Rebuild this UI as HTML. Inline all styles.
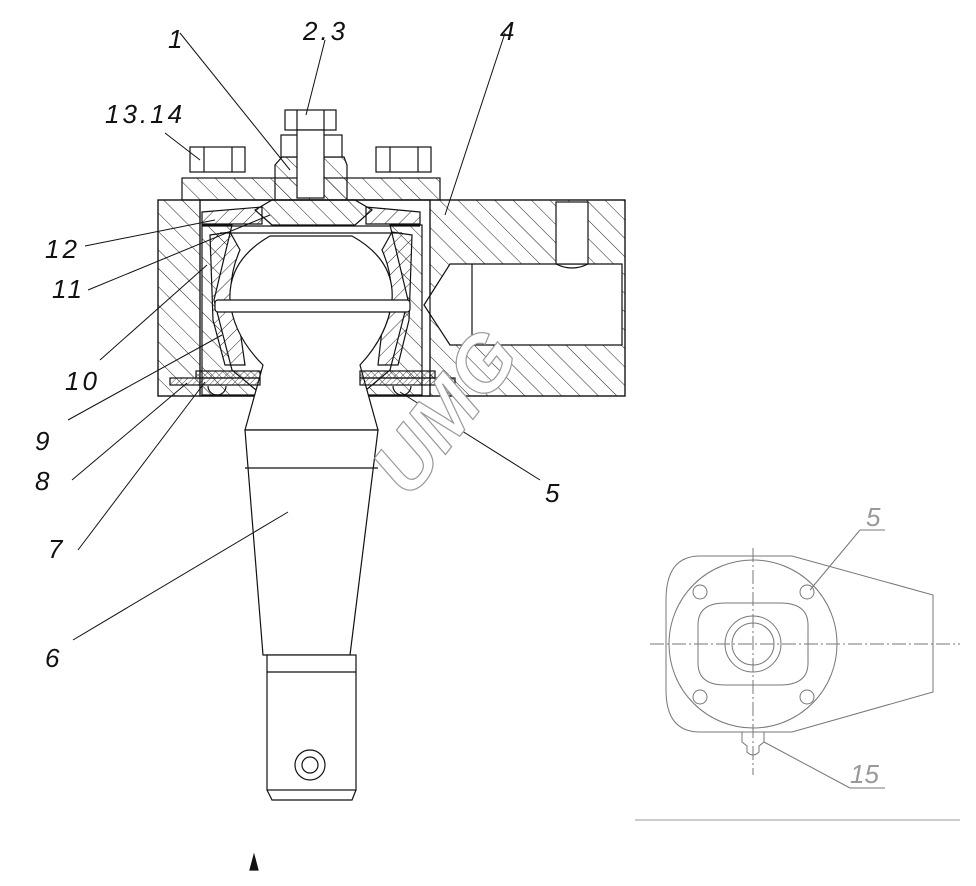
<!DOCTYPE html>
<html><head><meta charset="utf-8"><style>
html,body{margin:0;padding:0;background:#fff;width:976px;height:886px;overflow:hidden}
svg{display:block}
text{font-family:"Liberation Sans",sans-serif;font-style:italic}
</style></head><body>
<svg width="976" height="886" viewBox="0 0 976 886" xmlns="http://www.w3.org/2000/svg">
<defs>
<pattern id="h" width="13" height="13" patternUnits="userSpaceOnUse" patternTransform="rotate(-45)">
<line x1="0" y1="0" x2="0" y2="13" stroke="#222" stroke-width="1"/></pattern>
<pattern id="h2" width="10" height="10" patternUnits="userSpaceOnUse" patternTransform="rotate(45)">
<line x1="0" y1="0" x2="0" y2="10" stroke="#222" stroke-width="1"/></pattern>
<pattern id="x" width="5" height="5" patternUnits="userSpaceOnUse" patternTransform="rotate(45)">
<line x1="0" y1="0" x2="0" y2="5" stroke="#222" stroke-width=".8"/><line x1="0" y1="0" x2="5" y2="0" stroke="#222" stroke-width=".8"/></pattern>
<pattern id="s" width="4" height="4" patternUnits="userSpaceOnUse" patternTransform="rotate(45)">
<line x1="0" y1="0" x2="0" y2="4" stroke="#222" stroke-width=".8"/></pattern>
</defs>
<g stroke="#111" stroke-width="1.2" fill="none">
<path d="M158 200 H625 V396 H158 Z M200 200 V396 H430 V200 Z" fill="url(#h)" fill-rule="evenodd"/>
<rect x="158" y="200" width="467" height="196"/>
<path d="M450 264 H622 V345 H450 L424 305 Z" fill="#fff"/>
<line x1="472" y1="264" x2="472" y2="345"/>
<rect x="556" y="202" width="32" height="62" fill="#fff"/>
<path d="M556 264 Q572 272 588 264"/>
<path d="M390 225 L422 225 V395 H360 L390 370 L408 300 Z" fill="url(#h)"/>
<path d="M232 225 L202 225 V395 H262 L232 370 L214 300 Z" fill="url(#h)"/>
<rect x="200" y="200" width="230" height="196"/>
<path d="M210 235 L230 232 L240 250 Q222 290 240 330 L245 365 H225 L213 320 Z" fill="url(#h2)"/>
<path d="M412 235 L392 232 L382 250 Q400 290 382 330 L378 365 H398 L409 320 Z" fill="url(#h2)"/>
<rect x="182" y="178" width="258" height="22" fill="url(#h)"/>
<path d="M255 210 L272 200 H355 L372 210 L355 225 H272 Z" fill="url(#h)"/>
<path d="M202 212 L262 207 V224 H202 Z" fill="url(#h2)"/>
<path d="M420 212 L366 207 V224 H420 Z" fill="url(#h2)"/>
<line x1="202" y1="226" x2="420" y2="226"/>
<line x1="220" y1="233" x2="402" y2="233"/>
<rect x="190" y="147" width="55" height="25" fill="#fff"/><line x1="204" y1="147" x2="204" y2="172"/><line x1="232" y1="147" x2="232" y2="172"/>
<rect x="376" y="147" width="55" height="25" fill="#fff"/><line x1="390" y1="147" x2="390" y2="172"/><line x1="418" y1="147" x2="418" y2="172"/>
<path d="M275 200 V165 L282 157 H344 L347 165 V200" fill="url(#h)"/>
<rect x="281" y="135" width="61" height="22" fill="#fff"/>
<rect x="285" y="110" width="51" height="20" fill="#fff"/>
<line x1="297" y1="110" x2="297" y2="130"/><line x1="324" y1="110" x2="324" y2="130"/>
<rect x="297" y="130" width="27" height="68" fill="#fff"/>
<path d="M270 236 H352 Q395 260 392 300 Q388 335 360 365 L378 430 H245 L263 365 Q233 335 230 300 Q228 260 270 236 Z" fill="#fff"/>
<rect x="215" y="300" width="195" height="12" rx="3" fill="#fff"/>
<rect x="170" y="378" width="90" height="7" fill="url(#s)"/>
<rect x="360" y="378" width="95" height="7" fill="url(#s)"/>
<rect x="196" y="371" width="64" height="7" fill="url(#x)"/>
<rect x="360" y="371" width="75" height="7" fill="url(#x)"/>
<path d="M208 386 a9 9 0 0 0 18 0"/><path d="M393 386 a9 9 0 0 0 18 0"/>
<path d="M245 430 H378 L350 655 H263 Z" fill="#fff"/>
<line x1="245" y1="468" x2="378" y2="468"/>
<rect x="267" y="655" width="89" height="135" fill="#fff"/>
<path d="M267 790 L272 800 H352 L356 790"/>
<line x1="267" y1="672" x2="356" y2="672"/>
<circle cx="310" cy="765" r="15"/><circle cx="310" cy="765" r="8"/>
<path d="M250 870 L254 855 L258 870 Z" fill="#111"/>
</g>
<g stroke="#111" stroke-width="1" fill="none">
<line x1="180" y1="33" x2="290" y2="170"/>
<line x1="325" y1="40" x2="306" y2="115"/>
<line x1="505" y1="33" x2="445" y2="215"/>
<line x1="165" y1="133" x2="200" y2="160"/>
<line x1="85" y1="246" x2="215" y2="220"/>
<line x1="88" y1="290" x2="270" y2="215"/>
<line x1="100" y1="360" x2="207" y2="265"/>
<line x1="68" y1="420" x2="222" y2="335"/>
<line x1="72" y1="480" x2="187" y2="383"/>
<line x1="78" y1="550" x2="205" y2="382"/>
<line x1="73" y1="640" x2="288" y2="512"/>
<line x1="540" y1="480" x2="400" y2="392"/>
</g>
<g font-size="26" fill="#111" letter-spacing="3">
<text x="168" y="48">1</text><text x="303" y="40">2.3</text><text x="500" y="40">4</text>
<text x="105" y="123">13.14</text>
<text x="45" y="258">12</text><text x="52" y="298">11</text><text x="65" y="390">10</text>
<text x="35" y="450">9</text><text x="35" y="490">8</text><text x="48" y="558">7</text>
<text x="45" y="667">6</text><text x="545" y="502">5</text>
</g>
<text x="0" y="0" transform="translate(410 500) rotate(-52)" font-size="78" font-style="normal" font-weight="bold" fill="#fff" stroke="#999" stroke-width="1.2">UMG</text>
<g stroke="#777" stroke-width="1" fill="none">
<path d="M700 556 H792 L933 595 V692 L792 732 H700 Q666 732 666 690 V600 Q666 556 700 556 Z" fill="#fff"/>
<circle cx="753" cy="644" r="84"/>
<path d="M725 603 H780 Q808 603 808 625 V663 Q808 685 780 685 H725 Q698 685 698 663 V625 Q698 603 725 603 Z"/>
<circle cx="753" cy="644" r="28"/><circle cx="753" cy="644" r="21"/>
<circle cx="700" cy="592" r="7"/><circle cx="807" cy="592" r="7"/><circle cx="700" cy="697" r="7"/><circle cx="807" cy="697" r="7"/>
<path d="M742 732 V742 L747 746 V752 Q753 758 759 752 V746 L764 742 V732"/>
<line x1="650" y1="644" x2="960" y2="644" stroke-dasharray="14 3 2 3"/>
<line x1="753" y1="548" x2="753" y2="775" stroke-dasharray="14 3 2 3"/>
<line x1="810" y1="590" x2="860" y2="530"/><line x1="860" y1="530" x2="885" y2="530"/>
<line x1="764" y1="742" x2="850" y2="788"/><line x1="850" y1="788" x2="885" y2="788"/>
<line x1="635" y1="820" x2="960" y2="820" stroke="#999"/>
</g>
<g font-size="26" fill="#999"><text x="866" y="526">5</text><text x="850" y="783">15</text></g>
</svg>
</body></html>
